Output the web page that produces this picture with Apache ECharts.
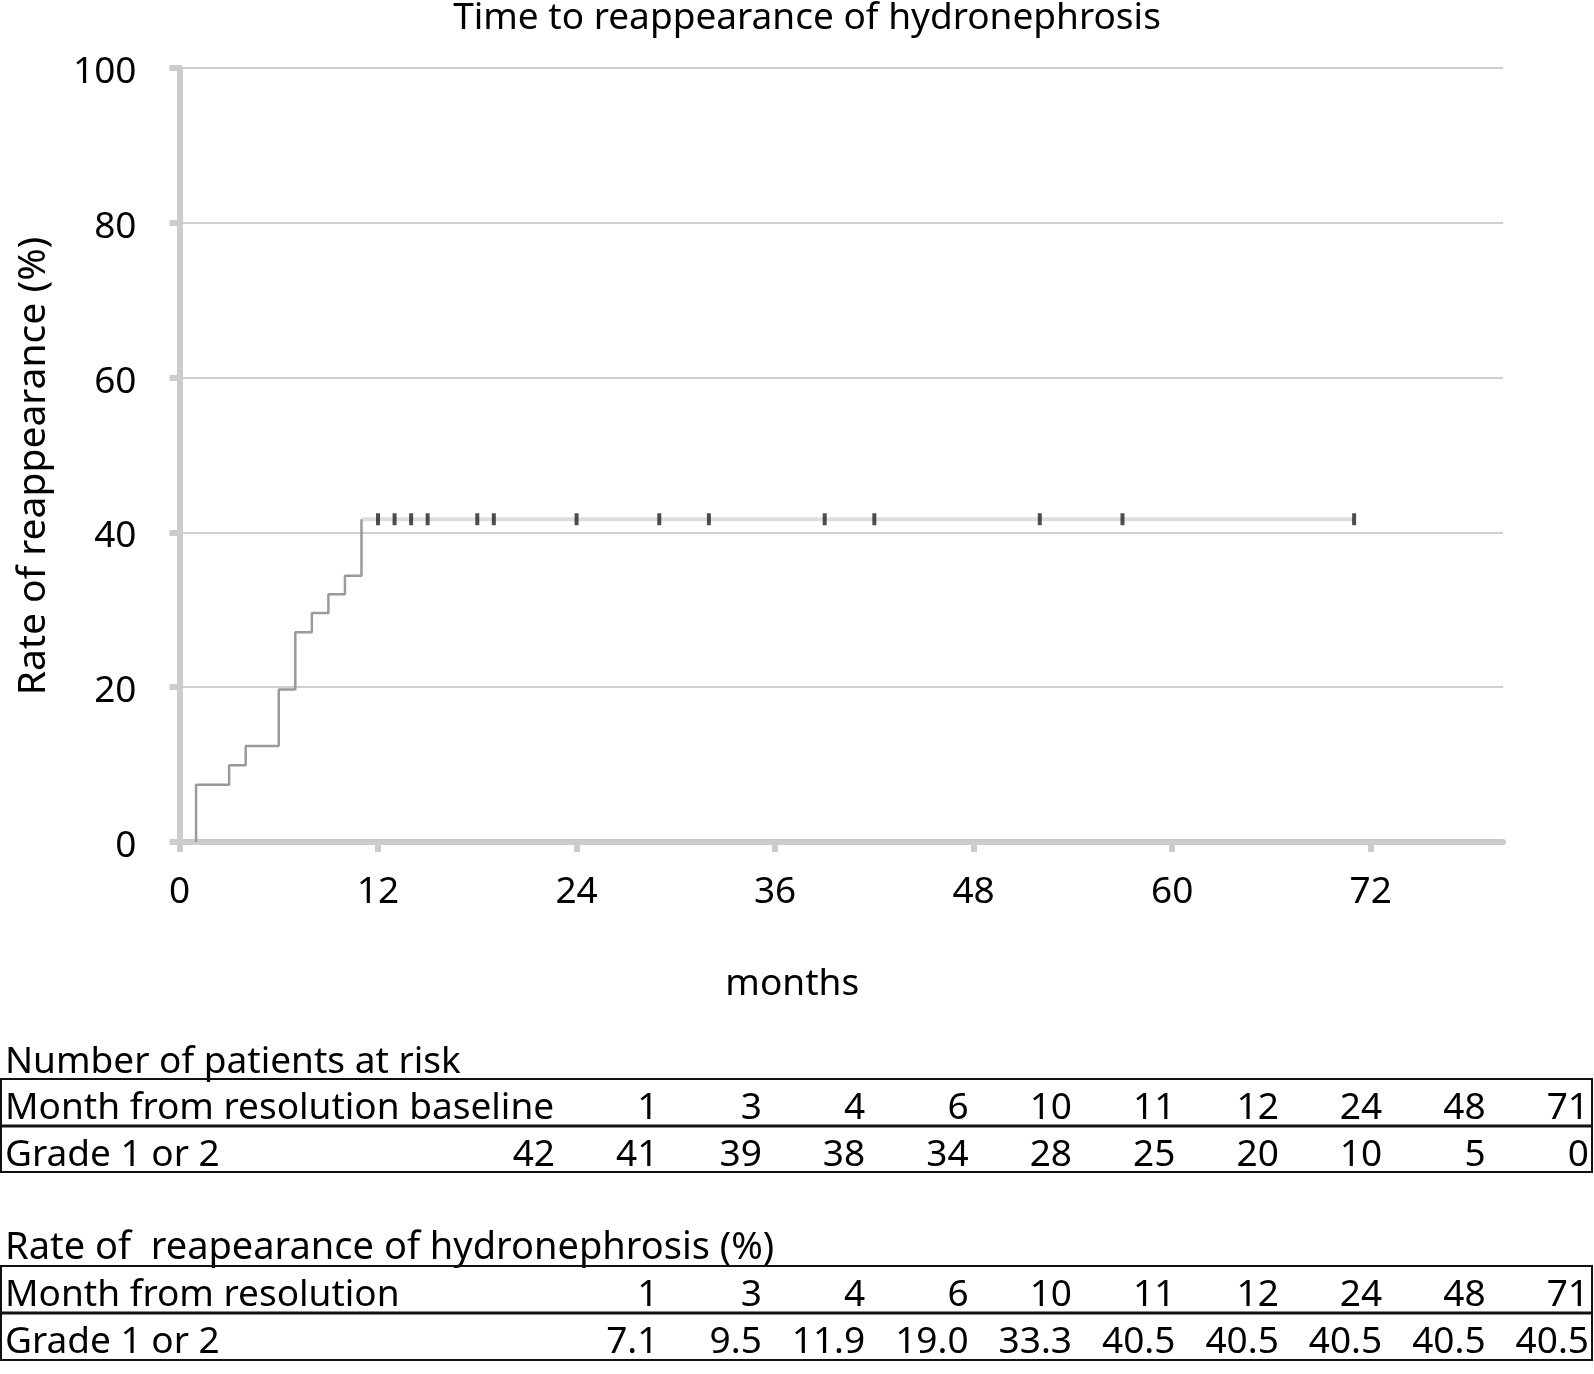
<!DOCTYPE html>
<html>
<head>
<meta charset="utf-8">
<script src="https://cdn.jsdelivr.net/npm/echarts@6/dist/echarts.min.js"></script>
<style>
  html, body { margin: 0; padding: 0; background: #fff; }
  #main { width: 1594px; height: 1374px; }
</style>
</head>
<body>
<div id="main"></div>
<script>
// step curve (months, cumulative rate %)
var eventMonths = [1, 3, 4, 6, 7, 8, 9, 10, 11];
var eventRates = [7.4, 9.9, 12.4, 19.7, 27.1, 29.6, 32.0, 34.4, 41.7];
var lastMonth = 71;
// censored observations (tick marks on the plateau)
var censorMonths = [12, 13, 14, 15, 18, 19, 24, 29, 32, 39, 42, 52, 57, 71];
var xTicks = [0, 12, 24, 36, 48, 60, 72];

// tables under the chart
var riskCols = ['1', '3', '4', '6', '10', '11', '12', '24', '48', '71'];
var riskCounts = ['42', '41', '39', '38', '34', '28', '25', '20', '10', '5', '0'];
var rateCols = ['1', '3', '4', '6', '10', '11', '12', '24', '48', '71'];
var rateValues = ['7.1', '9.5', '11.9', '19.0', '33.3', '40.5', '40.5', '40.5', '40.5', '40.5'];

var FONT = '"Noto Sans", sans-serif';
var myChart = echarts.init(document.getElementById('main'));

// build the curve (starts on the axis at the first event)
var curve = [[eventMonths[0], 0]];
for (var i = 0; i < eventMonths.length; i++) curve.push([eventMonths[i], eventRates[i]]);
var plateauRate = eventRates[eventRates.length - 1];
var plateau = [[eventMonths[eventMonths.length - 1], plateauRate], [lastMonth, plateauRate]];
var censored = censorMonths.map(function (m) { return [m, plateauRate]; });

// table graphics
var colRight = function (k) { return 555 + k * 103.4; };
var txt = function (x, y, s, align, size) {
    return {
        type: 'text', x: x, y: y,
        style: { text: s, fill: '#000', font: (size || 37) + 'px ' + FONT, textAlign: align || 'left', textVerticalAlign: 'middle' }
    };
};
var box = function (top, mid, bottom) {
    return [
        { type: 'rect', shape: { x: 1, y: top, width: 1591, height: bottom - top }, style: { fill: 'none', stroke: '#111', lineWidth: 2 } },
        { type: 'line', shape: { x1: 1, y1: mid, x2: 1592, y2: mid }, style: { stroke: '#111', lineWidth: 3 } }
    ];
};
var graphics = [];
graphics.push(txt(5, 1062, 'Number of patients at risk'));
graphics = graphics.concat(box(1079, 1126, 1172));
graphics.push(txt(5, 1108, 'Month from resolution baseline'));
riskCols.forEach(function (c, k) { graphics.push(txt(colRight(k + 1), 1108, c, 'right')); });
graphics.push(txt(5, 1155, 'Grade 1 or 2'));
riskCounts.forEach(function (c, k) { graphics.push(txt(colRight(k), 1155, c, 'right')); });

graphics.push(txt(5, 1248, 'Rate of  reapearance of hydronephrosis (%)', 'left', 38));
graphics = graphics.concat(box(1266, 1313, 1360));
graphics.push(txt(5, 1295, 'Month from resolution'));
rateCols.forEach(function (c, k) { graphics.push(txt(colRight(k + 1), 1295, c, 'right')); });
graphics.push(txt(5, 1342, 'Grade 1 or 2'));
rateValues.forEach(function (c, k) { graphics.push(txt(colRight(k + 1), 1342, c, 'right')); });

myChart.setOption({
    animation: false,
    backgroundColor: '#fff',
    textStyle: { fontFamily: FONT },
    title: {
        text: 'Time to reappearance of hydronephrosis',
        left: 802, top: -5, textAlign: 'center',
        textStyle: { fontSize: 37, fontWeight: 'normal', color: '#000', fontFamily: FONT }
    },
    grid: { left: 179.5, top: 68, width: 1323.5, height: 774, containLabel: false },
    xAxis: {
        type: 'value', min: 0, max: 80, interval: 12,
        name: 'months', nameLocation: 'middle', nameGap: 124,
        nameTextStyle: { fontSize: 37, color: '#000', fontFamily: FONT, padding: [0, 98, 0, 0] },
        axisLine: { onZero: false, lineStyle: { color: '#cccccc', width: 6 } },
        axisTick: { show: true, length: 10, lineStyle: { color: '#cccccc', width: 6 }, customValues: xTicks },
        axisLabel: { fontSize: 37, color: '#000', margin: 32, customValues: xTicks },
        splitLine: { show: false }
    },
    yAxis: {
        type: 'value', min: 0, max: 100, interval: 20,
        name: 'Rate of reappearance (%)', nameLocation: 'middle', nameGap: 126,
        nameTextStyle: { fontSize: 39, color: '#000', fontFamily: FONT, padding: [0, 22, 0, 0] },
        axisLine: { show: true, lineStyle: { color: '#cccccc', width: 6 } },
        axisTick: { show: true, length: 10, lineStyle: { color: '#cccccc', width: 6 } },
        axisLabel: {
            margin: 43,
            formatter: '{v|{value}}',
            rich: { v: { fontSize: 37, color: '#000', fontFamily: FONT, padding: [9, 0, 0, 0] } }
        },
        splitLine: { show: true, lineStyle: { color: '#d0d0d0', width: 2 } }
    },
    series: [
        {
            name: 'plateau', type: 'line', data: plateau, symbol: 'none',
            lineStyle: { color: '#dedede', width: 4 }, z: 3
        },
        {
            name: 'Grade 1 or 2', type: 'line', step: 'end', data: curve, symbol: 'none',
            lineStyle: { color: '#9a9a9a', width: 2.5 }, z: 4
        },
        {
            name: 'censored', type: 'scatter', data: censored,
            symbol: 'rect', symbolSize: [4, 12],
            itemStyle: { color: '#222' }, z: 5
        }
    ],
    graphic: graphics
});
</script>
</body>
</html>
